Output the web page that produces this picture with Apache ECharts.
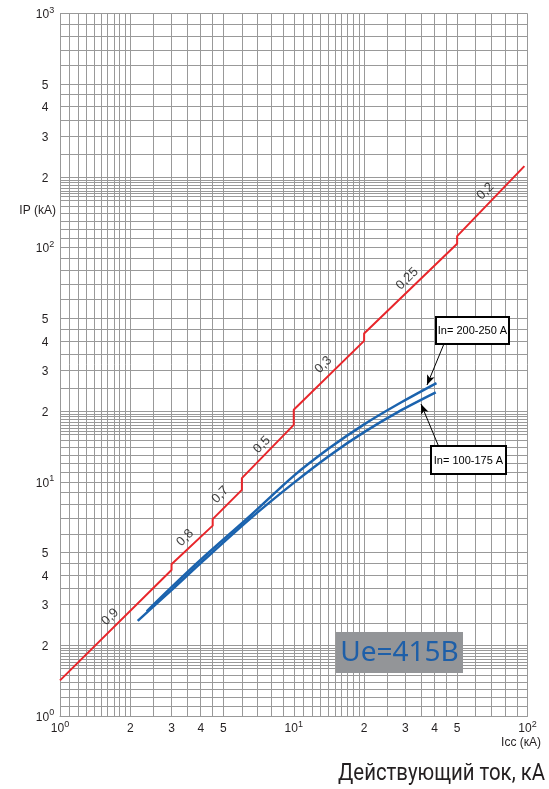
<!DOCTYPE html>
<html><head><meta charset="utf-8">
<script src="https://cdn.jsdelivr.net/npm/echarts@6/dist/echarts.min.js"></script>
<style>html,body{margin:0;padding:0;background:#fff}#c{width:549px;height:789px}</style>
</head><body><div id="c"></div>
<script>
// ---- data ----
const xTickLabels = [1, 2, 3, 4, 5, 10, 20, 30, 40, 50, 100];
const yTickLabels = [1, 2, 3, 4, 5, 10, 20, 30, 40, 50, 100, 200, 300, 400, 500, 1000];
const xGridMantissas = [1, 1.1, 1.2, 1.3, 1.4, 1.5, 1.6, 1.7, 1.8, 1.9, 2, 2.5, 3, 3.5, 4, 4.5, 5, 6, 7, 8, 9];
const yGridMantissas = [1, 1.1, 1.2, 1.3, 1.4, 1.5, 1.6, 1.65, 1.7, 1.75, 1.8, 1.85, 1.9, 1.95, 2, 2.5, 3, 3.5, 4, 4.5, 5, 6, 7, 8, 9];
const xDecades = [1, 10];
const yDecades = [1, 10, 100];
const xMax = 100, yMax = 1000;

// peak current IP vs Icc (red, with cos phi steps)
const peakX = [1, 3, 3, 4.5, 4.5, 6, 6, 10, 10, 20, 20, 50, 50, 97];
const peakY = [1.42, 4.2, 4.45, 6.5, 6.93, 9.24, 10.37, 17.5, 20.3, 40, 43, 104, 112, 223];
const cosLabels = ['0,9', '0,8', '0,7', '0,5', '0,3', '0,25', '0,2'];
const cosLabelX = [1.64, 3.43, 4.85, 7.31, 13.4, 30.6, 66.1];
const cosLabelY = [2.65, 5.77, 8.80, 14.4, 31.6, 73.7, 174];

// limited peak current curves (blue)
const in100X = [2.15, 3, 4, 6.5, 10, 14.3, 20, 28, 40.5];
const in100Y = [2.55, 3.45, 4.5, 6.95, 9.9, 13.0, 16.3, 19.9, 24.1];
const in200X = [2.35, 3, 4, 6.5, 10, 14.3, 20, 28, 40.8];
const in200Y = [2.8, 3.55, 4.65, 7.15, 10.6, 14.0, 17.6, 21.5, 26.4];

const zip = (a, b) => a.map((v, i) => [v, b[i]]);
function gridValues(mants, decs, max) {
  const out = [];
  decs.forEach(d => mants.forEach(m => out.push(+(m * d).toPrecision(6))));
  out.push(max);
  return out;
}
const xLines = gridValues(xGridMantissas, xDecades, xMax);
const yLines = gridValues(yGridMantissas, yDecades, yMax);

function fmt(v) {
  const e = Math.round(Math.log10(v));
  if (Math.abs(v - Math.pow(10, e)) < 1e-9) return '{b|10}{s|' + e + '}';
  const d = Math.pow(10, Math.floor(Math.log10(v) + 1e-9));
  return '{b|' + Math.round(v / d) + '}';
}
const rich = {
  b: { fontSize: 12, fontFamily: 'Liberation Sans, Arial', color: '#231f20', lineHeight: 15, verticalAlign: 'bottom' },
  s: { fontSize: 9, fontFamily: 'Liberation Sans, Arial', color: '#231f20', lineHeight: 15, verticalAlign: 'top' }
};
const GRIDC = '#999999';

// title width fit (layout only)
const TITLE = 'Действующий ток, кА';
const TITLE_FONT = '24px Roboto, "Liberation Sans", sans-serif';
const mctx = document.createElement('canvas').getContext('2d');
mctx.font = TITLE_FONT;
const titleScale = 207 / mctx.measureText(TITLE).width;

const chart = echarts.init(document.getElementById('c'));
chart.setOption({
  animation: false,
  backgroundColor: '#fff',
  grid: { left: 60, top: 13.5, right: 21.5, bottom: 73, outerBoundsMode: 'none', containLabel: false },
  xAxis: {
    type: 'log', logBase: 10, min: 1, max: xMax,
    axisLine: { show: true, lineStyle: { color: GRIDC, width: 1 } },
    axisTick: { show: false }, splitLine: { show: false }, minorSplitLine: { show: false },
    axisLabel: { customValues: xTickLabels, formatter: fmt, rich: rich, margin: 4, showMinLabel: true, showMaxLabel: true }
  },
  yAxis: {
    type: 'log', logBase: 10, min: 1, max: yMax,
    axisLine: { show: true, lineStyle: { color: GRIDC, width: 1 } },
    axisTick: { show: false }, splitLine: { show: false },
    axisLabel: { customValues: yTickLabels, formatter: fmt, rich: rich, margin: 15, align: 'center', showMinLabel: true, showMaxLabel: true }
  },
  series: [
    {
      name: 'grid', type: 'line', data: [[1, 1]], showSymbol: false, symbol: 'none',
      lineStyle: { width: 0, opacity: 0 }, silent: true, z: 1,
      markLine: {
        z: 1, silent: true, symbol: ['none', 'none'], animation: false,
        label: { show: false }, emphasis: { disabled: true },
        lineStyle: { color: GRIDC, width: 1, type: 'solid' },
        data: xLines.map(v => ({ xAxis: v })).concat(yLines.map(v => ({ yAxis: v })))
      }
    },
    {
      name: 'IP', type: 'line', data: zip(peakX, peakY), showSymbol: false, symbol: 'none',
      lineStyle: { color: '#e8262b', width: 2 }, z: 5, silent: true
    },
    {
      name: 'In 100-175 A', type: 'line', data: zip(in100X, in100Y), smooth: 0.3, showSymbol: false, symbol: 'none',
      lineStyle: { color: '#1b63ae', width: 2.5 }, z: 4, silent: true
    },
    {
      name: 'In 200-250 A', type: 'line', data: zip(in200X, in200Y), smooth: 0.3, showSymbol: false, symbol: 'none',
      lineStyle: { color: '#1b63ae', width: 2.5 }, z: 4, silent: true
    },
    {
      name: 'cos', type: 'scatter', symbolSize: 0, silent: true, z: 6,
      data: cosLabels.map((n, i) => ({ name: n, value: [cosLabelX[i], cosLabelY[i]] })),
      label: {
        show: true, formatter: p => p.name, position: 'inside', rotate: 45,
        align: 'center', verticalAlign: 'middle',
        fontSize: 13, fontFamily: 'Liberation Sans, Arial', color: '#111'
      }
    },
    {
      name: 'arrows', type: 'line', data: [], z: 8, silent: true,
      markLine: {
        z: 8, silent: true, symbol: ['none', 'arrow'], symbolSize: [6, 10], animation: false,
        label: { show: false }, emphasis: { disabled: true },
        lineStyle: { color: '#000', width: 1, type: 'solid' },
        data: [
          [{ x: 443.5, y: 345 }, { x: 427, y: 385 }],
          [{ x: 438.5, y: 446 }, { x: 421, y: 404 }]
        ]
      }
    }
  ],
  graphic: [
    { type: 'rect', shape: { x: 436, y: 317, width: 73, height: 27 }, style: { fill: '#fff', stroke: '#000', lineWidth: 2 }, z: 100 },
    { type: 'text', x: 472.5, y: 331, z: 101, style: { text: 'In= 200-250 A', font: '11px "Liberation Sans", Arial', fill: '#000', align: 'center', verticalAlign: 'middle' } },
    { type: 'rect', shape: { x: 431, y: 446, width: 75, height: 28 }, style: { fill: '#fff', stroke: '#000', lineWidth: 2 }, z: 100 },
    { type: 'text', x: 468.5, y: 460.5, z: 101, style: { text: 'In= 100-175 A', font: '11px "Liberation Sans", Arial', fill: '#000', align: 'center', verticalAlign: 'middle' } },
    { type: 'rect', shape: { x: 336, y: 632, width: 127, height: 41 }, style: { fill: '#939598' }, z: 100 },
    { type: 'text', x: 399.5, y: 653, z: 101, style: { text: 'Ue=415В', font: '28px "Noto Sans", "Open Sans", sans-serif', fill: '#1e5fa8', align: 'center', verticalAlign: 'middle' } },
    { type: 'text', x: 56, y: 211, z: 101, style: { text: 'IP (kA)', font: '12px "Liberation Sans", Arial', fill: '#231f20', align: 'right', verticalAlign: 'middle' } },
    { type: 'text', x: 541, y: 743, z: 101, style: { text: 'Icc (кА)', font: '12px "Liberation Sans", Arial', fill: '#231f20', align: 'right', verticalAlign: 'middle' } },
    { type: 'text', x: 545, y: 774, scaleX: titleScale, z: 101, style: { text: TITLE, font: TITLE_FONT, fill: '#231f20', align: 'right', verticalAlign: 'middle' } }
  ]
});
</script>
</body></html>
